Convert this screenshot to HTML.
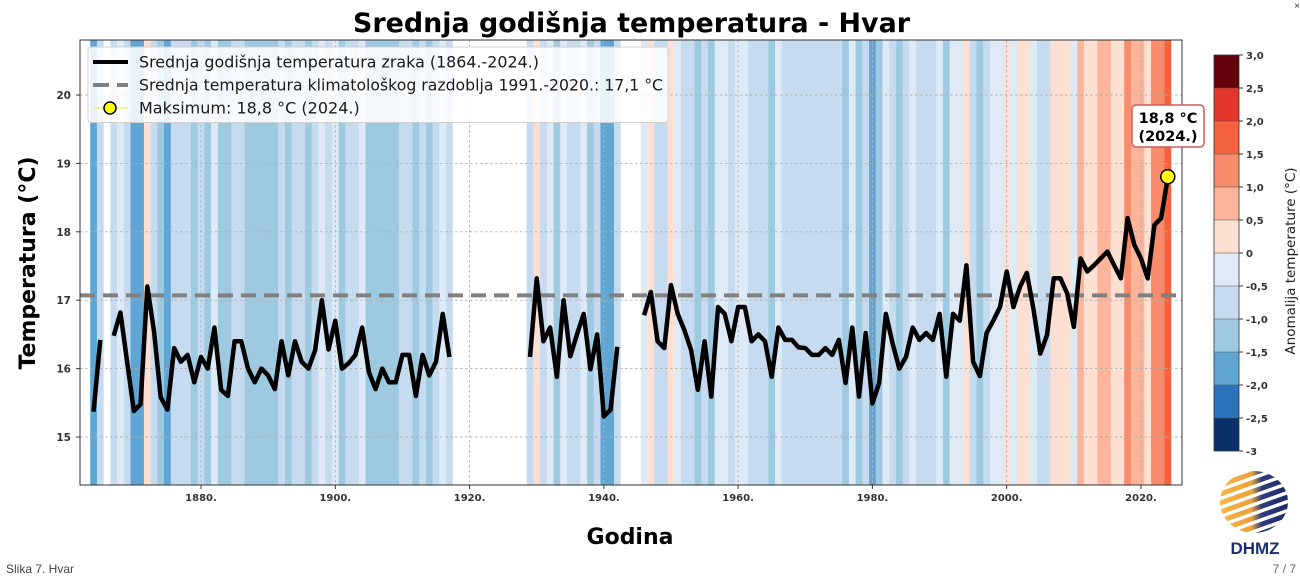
<!DOCTYPE html>
<html>
<head>
<meta charset="utf-8">
<style>
  html,body{margin:0;padding:0;background:#fff;}
  body{width:1300px;height:580px;overflow:hidden;}
  svg{display:block;}
  .t{font-family:"DejaVu Sans","Liberation Sans",sans-serif;}
  .b0{fill:#0a306b}.b1{fill:#2a72b9}.b2{fill:#5fa6d4}.b3{fill:#9ecae1}.b4{fill:#c6dbef}.b5{fill:#deebf7}
  .b6{fill:#fde0d2}.b7{fill:#fcb49a}.b8{fill:#f88b6c}.b9{fill:#f4623f}.b10{fill:#e3372b}.b11{fill:#67000d}
</style>
</head>
<body>
<svg width="1300" height="580" viewBox="0 0 1300 580" xmlns="http://www.w3.org/2000/svg">
  <defs>
    <clipPath id="plot"><rect x="80" y="40" width="1102" height="445"/></clipPath>
    <clipPath id="sph"><ellipse cx="1254" cy="502" rx="34" ry="31"/></clipPath>
    <linearGradient id="lg" gradientUnits="userSpaceOnUse" x1="1222" y1="0" x2="1288" y2="0">
      <stop offset="0" stop-color="#f6b445"/>
      <stop offset="0.45" stop-color="#eaa13a"/>
      <stop offset="0.6" stop-color="#2c3c7c"/>
      <stop offset="1" stop-color="#1a2a6c"/>
    </linearGradient>
  </defs>

  <!-- Title -->
  <text class="t" x="631.5" y="32" text-anchor="middle" font-size="27" font-weight="bold" fill="#000" textLength="557" lengthAdjust="spacingAndGlyphs">Srednja godišnja temperatura - Hvar</text>

  <g clip-path="url(#plot)">
    <rect x="80" y="40" width="1102" height="445" fill="#fff"/>
    <g transform="translate(201,95) scale(6.7143,-68.4) translate(-1880,-20)">
        <rect class="b2" x="1863.5" y="14.29" width="1.05" height="6.53"/>
        <rect class="b4" x="1864.5" y="14.29" width="1.0" height="6.53"/>
        <rect class="b4" x="1866.5" y="14.29" width="1.05" height="6.53"/>
        <rect class="b5" x="1867.5" y="14.29" width="1.05" height="6.53"/>
        <rect class="b4" x="1868.5" y="14.29" width="1.05" height="6.53"/>
        <rect class="b2" x="1869.5" y="14.29" width="2.05" height="6.53"/>
        <rect class="b6" x="1871.5" y="14.29" width="1.05" height="6.53"/>
        <rect class="b4" x="1872.5" y="14.29" width="1.05" height="6.53"/>
        <rect class="b3" x="1873.5" y="14.29" width="1.05" height="6.53"/>
        <rect class="b2" x="1874.5" y="14.29" width="1.05" height="6.53"/>
        <rect class="b4" x="1875.5" y="14.29" width="3.05" height="6.53"/>
        <rect class="b3" x="1878.5" y="14.29" width="1.05" height="6.53"/>
        <rect class="b4" x="1879.5" y="14.29" width="1.05" height="6.53"/>
        <rect class="b3" x="1880.5" y="14.29" width="1.05" height="6.53"/>
        <rect class="b5" x="1881.5" y="14.29" width="1.05" height="6.53"/>
        <rect class="b3" x="1882.5" y="14.29" width="2.05" height="6.53"/>
        <rect class="b4" x="1884.5" y="14.29" width="2.05" height="6.53"/>
        <rect class="b3" x="1886.5" y="14.29" width="5.05" height="6.53"/>
        <rect class="b4" x="1891.5" y="14.29" width="1.05" height="6.53"/>
        <rect class="b3" x="1892.5" y="14.29" width="1.05" height="6.53"/>
        <rect class="b4" x="1893.5" y="14.29" width="2.05" height="6.53"/>
        <rect class="b3" x="1895.5" y="14.29" width="1.05" height="6.53"/>
        <rect class="b4" x="1896.5" y="14.29" width="1.05" height="6.53"/>
        <rect class="b5" x="1897.5" y="14.29" width="1.05" height="6.53"/>
        <rect class="b4" x="1898.5" y="14.29" width="1.05" height="6.53"/>
        <rect class="b5" x="1899.5" y="14.29" width="1.05" height="6.53"/>
        <rect class="b3" x="1900.5" y="14.29" width="1.05" height="6.53"/>
        <rect class="b4" x="1901.5" y="14.29" width="2.05" height="6.53"/>
        <rect class="b5" x="1903.5" y="14.29" width="1.05" height="6.53"/>
        <rect class="b3" x="1904.5" y="14.29" width="5.05" height="6.53"/>
        <rect class="b4" x="1909.5" y="14.29" width="2.05" height="6.53"/>
        <rect class="b3" x="1911.5" y="14.29" width="1.05" height="6.53"/>
        <rect class="b4" x="1912.5" y="14.29" width="1.05" height="6.53"/>
        <rect class="b3" x="1913.5" y="14.29" width="1.05" height="6.53"/>
        <rect class="b4" x="1914.5" y="14.29" width="1.05" height="6.53"/>
        <rect class="b5" x="1915.5" y="14.29" width="1.05" height="6.53"/>
        <rect class="b4" x="1916.5" y="14.29" width="1.0" height="6.53"/>

        <rect class="b4" x="1928.5" y="14.29" width="1.05" height="6.53"/>
        <rect class="b6" x="1929.5" y="14.29" width="1.05" height="6.53"/>
        <rect class="b4" x="1930.5" y="14.29" width="1.05" height="6.53"/>
        <rect class="b5" x="1931.5" y="14.29" width="1.05" height="6.53"/>
        <rect class="b3" x="1932.5" y="14.29" width="1.05" height="6.53"/>
        <rect class="b5" x="1933.5" y="14.29" width="1.05" height="6.53"/>
        <rect class="b4" x="1934.5" y="14.29" width="2.05" height="6.53"/>
        <rect class="b5" x="1936.5" y="14.29" width="1.05" height="6.53"/>
        <rect class="b3" x="1937.5" y="14.29" width="1.05" height="6.53"/>
        <rect class="b4" x="1938.5" y="14.29" width="1.05" height="6.53"/>
        <rect class="b2" x="1939.5" y="14.29" width="2.05" height="6.53"/>
        <rect class="b4" x="1941.5" y="14.29" width="1.0" height="6.53"/>

        <rect class="b5" x="1945.5" y="14.29" width="1.05" height="6.53"/>
        <rect class="b6" x="1946.5" y="14.29" width="1.05" height="6.53"/>
        <rect class="b4" x="1947.5" y="14.29" width="2.05" height="6.53"/>
        <rect class="b6" x="1949.5" y="14.29" width="1.05" height="6.53"/>
        <rect class="b5" x="1950.5" y="14.29" width="1.05" height="6.53"/>
        <rect class="b4" x="1951.5" y="14.29" width="2.05" height="6.53"/>
        <rect class="b3" x="1953.5" y="14.29" width="1.05" height="6.53"/>
        <rect class="b4" x="1954.5" y="14.29" width="1.05" height="6.53"/>
        <rect class="b3" x="1955.5" y="14.29" width="1.05" height="6.53"/>
        <rect class="b5" x="1956.5" y="14.29" width="2.05" height="6.53"/>
        <rect class="b4" x="1958.5" y="14.29" width="1.05" height="6.53"/>
        <rect class="b5" x="1959.5" y="14.29" width="2.05" height="6.53"/>
        <rect class="b4" x="1961.5" y="14.29" width="3.05" height="6.53"/>
        <rect class="b3" x="1964.5" y="14.29" width="1.05" height="6.53"/>
        <rect class="b5" x="1965.5" y="14.29" width="1.05" height="6.53"/>
        <rect class="b4" x="1966.5" y="14.29" width="9.05" height="6.53"/>
        <rect class="b3" x="1975.5" y="14.29" width="1.05" height="6.53"/>
        <rect class="b5" x="1976.5" y="14.29" width="1.05" height="6.53"/>
        <rect class="b3" x="1977.5" y="14.29" width="1.05" height="6.53"/>
        <rect class="b4" x="1978.5" y="14.29" width="1.05" height="6.53"/>
        <rect class="b2" x="1979.5" y="14.29" width="1.05" height="6.53"/>
        <rect class="b3" x="1980.5" y="14.29" width="1.05" height="6.53"/>
        <rect class="b5" x="1981.5" y="14.29" width="1.05" height="6.53"/>
        <rect class="b4" x="1982.5" y="14.29" width="1.05" height="6.53"/>
        <rect class="b3" x="1983.5" y="14.29" width="1.05" height="6.53"/>
        <rect class="b4" x="1984.5" y="14.29" width="1.05" height="6.53"/>
        <rect class="b5" x="1985.5" y="14.29" width="1.05" height="6.53"/>
        <rect class="b4" x="1986.5" y="14.29" width="3.05" height="6.53"/>
        <rect class="b5" x="1989.5" y="14.29" width="1.05" height="6.53"/>
        <rect class="b3" x="1990.5" y="14.29" width="1.05" height="6.53"/>
        <rect class="b5" x="1991.5" y="14.29" width="2.05" height="6.53"/>
        <rect class="b6" x="1993.5" y="14.29" width="1.05" height="6.53"/>
        <rect class="b4" x="1994.5" y="14.29" width="1.05" height="6.53"/>
        <rect class="b3" x="1995.5" y="14.29" width="1.05" height="6.53"/>
        <rect class="b4" x="1996.5" y="14.29" width="1.05" height="6.53"/>
        <rect class="b5" x="1997.5" y="14.29" width="2.05" height="6.53"/>
        <rect class="b6" x="1999.5" y="14.29" width="1.05" height="6.53"/>
        <rect class="b5" x="2000.5" y="14.29" width="1.05" height="6.53"/>
        <rect class="b6" x="2001.5" y="14.29" width="2.05" height="6.53"/>
        <rect class="b5" x="2003.5" y="14.29" width="1.05" height="6.53"/>
        <rect class="b4" x="2004.5" y="14.29" width="2.05" height="6.53"/>
        <rect class="b6" x="2006.5" y="14.29" width="3.05" height="6.53"/>
        <rect class="b5" x="2009.5" y="14.29" width="1.05" height="6.53"/>
        <rect class="b7" x="2010.5" y="14.29" width="1.05" height="6.53"/>
        <rect class="b6" x="2011.5" y="14.29" width="2.05" height="6.53"/>
        <rect class="b7" x="2013.5" y="14.29" width="2.05" height="6.53"/>
        <rect class="b6" x="2015.5" y="14.29" width="2.05" height="6.53"/>
        <rect class="b8" x="2017.5" y="14.29" width="1.05" height="6.53"/>
        <rect class="b7" x="2018.5" y="14.29" width="2.05" height="6.53"/>
        <rect class="b6" x="2020.5" y="14.29" width="1.05" height="6.53"/>
        <rect class="b8" x="2021.5" y="14.29" width="2.05" height="6.53"/>
        <rect class="b9" x="2023.5" y="14.29" width="1.0" height="6.53"/>
    </g>

    <!-- grid -->
    <g stroke="#b0b0b0" stroke-width="0.9" stroke-dasharray="2.5,2.5" fill="none">
      <line x1="80" y1="95" x2="1182" y2="95"/>
      <line x1="80" y1="163.4" x2="1182" y2="163.4"/>
      <line x1="80" y1="231.8" x2="1182" y2="231.8"/>
      <line x1="80" y1="300.2" x2="1182" y2="300.2"/>
      <line x1="80" y1="368.6" x2="1182" y2="368.6"/>
      <line x1="80" y1="437" x2="1182" y2="437"/>
      <line x1="201" y1="40" x2="201" y2="485"/>
      <line x1="335.3" y1="40" x2="335.3" y2="485"/>
      <line x1="469.6" y1="40" x2="469.6" y2="485"/>
      <line x1="603.9" y1="40" x2="603.9" y2="485"/>
      <line x1="738.1" y1="40" x2="738.1" y2="485"/>
      <line x1="872.4" y1="40" x2="872.4" y2="485"/>
      <line x1="1006.7" y1="40" x2="1006.7" y2="485"/>
      <line x1="1141" y1="40" x2="1141" y2="485"/>
    </g>

    <!-- mean line -->
    <line x1="80" y1="295.4" x2="1182" y2="295.4" stroke="#808080" stroke-width="4" stroke-dasharray="15,8"/>

    <!-- data line -->
    <g transform="translate(201,95) scale(6.7143,-68.4) translate(-1880,-20)" fill="none" stroke="#000" stroke-width="4.5" stroke-linejoin="round" stroke-linecap="butt">
      <polyline vector-effect="non-scaling-stroke" points="1864,15.37 1865,16.42"/>
      <polyline vector-effect="non-scaling-stroke" points="1867,16.48 1868,16.82 1869,16.1 1870,15.38 1871,15.48 1872,17.2 1873,16.55 1874,15.58 1875,15.4 1876,16.3 1877,16.1 1878,16.2 1879,15.8 1880,16.17 1881,16.0 1882,16.6 1883,15.69 1884,15.6 1885,16.4 1886,16.4 1887,16.0 1888,15.8 1889,16.0 1890,15.9 1891,15.7 1892,16.4 1893,15.9 1894,16.4 1895,16.1 1896,16.0 1897,16.27 1898,17.0 1899,16.28 1900,16.7 1901,16.0 1902,16.08 1903,16.2 1904,16.6 1905,15.95 1906,15.7 1907,16.0 1908,15.8 1909,15.8 1910,16.2 1911,16.2 1912,15.6 1913,16.2 1914,15.9 1915,16.1 1916,16.8 1917,16.17"/>
      <polyline vector-effect="non-scaling-stroke" points="1929,16.17 1930,17.32 1931,16.4 1932,16.6 1933,15.88 1934,17.0 1935,16.18 1936,16.5 1937,16.8 1938,15.99 1939,16.5 1940,15.3 1941,15.4 1942,16.32"/>
      <polyline vector-effect="non-scaling-stroke" points="1946,16.78 1947,17.12 1948,16.4 1949,16.3 1950,17.22 1951,16.8 1952,16.56 1953,16.27 1954,15.69 1955,16.4 1956,15.59 1957,16.9 1958,16.8 1959,16.4 1960,16.9 1961,16.9 1962,16.4 1963,16.5 1964,16.4 1965,15.88 1966,16.6 1967,16.42 1968,16.42 1969,16.31 1970,16.3 1971,16.2 1972,16.2 1973,16.3 1974,16.2 1975,16.42 1976,15.79 1977,16.6 1978,15.59 1979,16.52 1980,15.49 1981,15.79 1982,16.8 1983,16.37 1984,16.0 1985,16.17 1986,16.6 1987,16.42 1988,16.52 1989,16.42 1990,16.8 1991,15.88 1992,16.8 1993,16.7 1994,17.51 1995,16.1 1996,15.89 1997,16.52 1998,16.7 1999,16.9 2000,17.42 2001,16.9 2002,17.2 2003,17.4 2004,16.86 2005,16.22 2006,16.49 2007,17.32 2008,17.32 2009,17.1 2010,16.61 2011,17.61 2012,17.42 2013,17.51 2014,17.61 2015,17.71 2016,17.51 2017,17.32 2018,18.2 2019,17.81 2020,17.61 2021,17.32 2022,18.1 2023,18.2 2024,18.8"/>
    </g>

    <circle cx="1167.8" cy="176.7" r="7" fill="#ffff00" stroke="#000" stroke-width="1.5"/>
  </g>

  <!-- plot frame -->
  <rect x="80" y="40" width="1102" height="445" fill="none" stroke="#333" stroke-width="1"/>

  <!-- ticks -->
  <g stroke="#333" stroke-width="1">
    <line x1="76" y1="95" x2="80" y2="95"/>
    <line x1="76" y1="163.4" x2="80" y2="163.4"/>
    <line x1="76" y1="231.8" x2="80" y2="231.8"/>
    <line x1="76" y1="300.2" x2="80" y2="300.2"/>
    <line x1="76" y1="368.6" x2="80" y2="368.6"/>
    <line x1="76" y1="437" x2="80" y2="437"/>
    <line x1="201" y1="485" x2="201" y2="489"/>
    <line x1="335.3" y1="485" x2="335.3" y2="489"/>
    <line x1="469.6" y1="485" x2="469.6" y2="489"/>
    <line x1="603.9" y1="485" x2="603.9" y2="489"/>
    <line x1="738.1" y1="485" x2="738.1" y2="489"/>
    <line x1="872.4" y1="485" x2="872.4" y2="489"/>
    <line x1="1006.7" y1="485" x2="1006.7" y2="489"/>
    <line x1="1141" y1="485" x2="1141" y2="489"/>
  </g>
  <g class="t" font-size="10.5" font-weight="bold" fill="#333" text-anchor="end">
    <text x="71" y="99">20</text>
    <text x="71" y="167.4">19</text>
    <text x="71" y="235.8">18</text>
    <text x="71" y="304.2">17</text>
    <text x="71" y="372.6">16</text>
    <text x="71" y="441">15</text>
  </g>
  <g class="t" font-size="10" font-weight="bold" fill="#333" text-anchor="middle">
    <text x="201" y="501">1880.</text>
    <text x="335.3" y="501">1900.</text>
    <text x="469.6" y="501">1920.</text>
    <text x="603.9" y="501">1940.</text>
    <text x="738.1" y="501">1960.</text>
    <text x="872.4" y="501">1980.</text>
    <text x="1006.7" y="501">2000.</text>
    <text x="1141" y="501">2020.</text>
  </g>

  <!-- axis labels -->
  <text class="t" x="630" y="544" text-anchor="middle" font-size="22" font-weight="bold" fill="#000">Godina</text>
  <text class="t" transform="translate(35,263) rotate(-90)" text-anchor="middle" font-size="22" font-weight="bold" fill="#000">Temperatura (°C)</text>

  <!-- legend -->
  <rect x="88" y="47" width="580" height="75.5" rx="3" fill="#fff" fill-opacity="0.85" stroke="#d0d0d0" stroke-width="1"/>
  <line x1="93" y1="62" x2="128" y2="62" stroke="#000" stroke-width="4"/>
  <line x1="93" y1="85" x2="128" y2="85" stroke="#808080" stroke-width="4" stroke-dasharray="16,8"/>
  <line x1="93" y1="108" x2="128" y2="108" stroke="#f2f27a" stroke-width="1.5"/>
  <circle cx="110" cy="108" r="6" fill="#ffff00" stroke="#000" stroke-width="1.5"/>
  <g class="t" font-size="16" fill="#1a1a1a">
    <text x="139" y="67.5" textLength="400" lengthAdjust="spacingAndGlyphs">Srednja godišnja temperatura zraka (1864.-2024.)</text>
    <text x="139" y="90.5" textLength="524" lengthAdjust="spacingAndGlyphs">Srednja temperatura klimatološkog razdoblja 1991.-2020.: 17,1 °C</text>
    <text x="139" y="113.5">Maksimum: 18,8 °C (2024.)</text>
  </g>

  <!-- annotation -->
  <rect x="1132" y="105" width="72" height="42" rx="4" fill="#fff" stroke="#cd5c5c" stroke-width="1.5"/>
  <g class="t" font-size="14.5" font-weight="bold" fill="#000" text-anchor="middle">
    <text x="1168" y="123">18,8 °C</text>
    <text x="1168" y="141">(2024.)</text>
  </g>

  <!-- colorbar -->
  <g>
    <rect class="b11" x="1214" y="55" width="25" height="33"/>
    <rect class="b10" x="1214" y="88" width="25" height="33"/>
    <rect class="b9" x="1214" y="121" width="25" height="33"/>
    <rect class="b8" x="1214" y="154" width="25" height="33"/>
    <rect class="b7" x="1214" y="187" width="25" height="33"/>
    <rect class="b6" x="1214" y="220" width="25" height="33"/>
    <rect class="b5" x="1214" y="253" width="25" height="33"/>
    <rect class="b4" x="1214" y="286" width="25" height="33"/>
    <rect class="b3" x="1214" y="319" width="25" height="33"/>
    <rect class="b2" x="1214" y="352" width="25" height="33"/>
    <rect class="b1" x="1214" y="385" width="25" height="33"/>
    <rect class="b0" x="1214" y="418" width="25" height="33"/>
  </g>
  <g stroke="#555" stroke-width="0.8" stroke-opacity="0.7">
    <line x1="1214" y1="88" x2="1239" y2="88"/>
    <line x1="1214" y1="121" x2="1239" y2="121"/>
    <line x1="1214" y1="154" x2="1239" y2="154"/>
    <line x1="1214" y1="187" x2="1239" y2="187"/>
    <line x1="1214" y1="220" x2="1239" y2="220"/>
    <line x1="1214" y1="253" x2="1239" y2="253"/>
    <line x1="1214" y1="286" x2="1239" y2="286"/>
    <line x1="1214" y1="319" x2="1239" y2="319"/>
    <line x1="1214" y1="352" x2="1239" y2="352"/>
    <line x1="1214" y1="385" x2="1239" y2="385"/>
    <line x1="1214" y1="418" x2="1239" y2="418"/>
  </g>
  <rect x="1214" y="55" width="25" height="396" fill="none" stroke="#333" stroke-width="0.8"/>
  <g stroke="#333" stroke-width="1">
    <line x1="1239" y1="55" x2="1243" y2="55"/>
    <line x1="1239" y1="88" x2="1243" y2="88"/>
    <line x1="1239" y1="121" x2="1243" y2="121"/>
    <line x1="1239" y1="154" x2="1243" y2="154"/>
    <line x1="1239" y1="187" x2="1243" y2="187"/>
    <line x1="1239" y1="220" x2="1243" y2="220"/>
    <line x1="1239" y1="253" x2="1243" y2="253"/>
    <line x1="1239" y1="286" x2="1243" y2="286"/>
    <line x1="1239" y1="319" x2="1243" y2="319"/>
    <line x1="1239" y1="352" x2="1243" y2="352"/>
    <line x1="1239" y1="385" x2="1243" y2="385"/>
    <line x1="1239" y1="418" x2="1243" y2="418"/>
    <line x1="1239" y1="451" x2="1243" y2="451"/>
  </g>
  <g class="t" font-size="10" font-weight="bold" fill="#333">
    <text x="1246" y="59">3,0</text>
    <text x="1246" y="92">2,5</text>
    <text x="1246" y="125">2,0</text>
    <text x="1246" y="158">1,5</text>
    <text x="1246" y="191">1,0</text>
    <text x="1246" y="224">0,5</text>
    <text x="1246" y="257">0</text>
    <text x="1246" y="290">-0,5</text>
    <text x="1246" y="323">-1,0</text>
    <text x="1246" y="356">-1,5</text>
    <text x="1246" y="389">-2,0</text>
    <text x="1246" y="422">-2,5</text>
    <text x="1246" y="455">-3</text>
  </g>
  <text class="t" transform="translate(1295,261) rotate(-90)" text-anchor="middle" font-size="13.5" fill="#222">Anomalija temperature (°C)</text>

  <!-- DHMZ logo -->
  <g clip-path="url(#sph)" stroke="url(#lg)" stroke-width="5" stroke-linecap="round">
    <line x1="1212" y1="470" x2="1296" y2="440"/>
    <line x1="1212" y1="479" x2="1296" y2="449"/>
    <line x1="1212" y1="488" x2="1296" y2="458"/>
    <line x1="1212" y1="497" x2="1296" y2="467"/>
    <line x1="1212" y1="506" x2="1296" y2="476"/>
    <line x1="1212" y1="515" x2="1296" y2="485"/>
    <line x1="1212" y1="524" x2="1296" y2="494"/>
    <line x1="1212" y1="533" x2="1296" y2="503"/>
    <line x1="1212" y1="542" x2="1296" y2="512"/>
    <line x1="1212" y1="551" x2="1296" y2="521"/>
    <line x1="1212" y1="560" x2="1296" y2="530"/>
    <line x1="1212" y1="569" x2="1296" y2="539"/>
  </g>
  <text x="1255" y="554" text-anchor="middle" font-family="'Liberation Sans',sans-serif" font-size="17" font-weight="bold" fill="#1b2f6e">DHMZ</text>

  <!-- footer -->
  <text x="6" y="573" font-family="'Liberation Sans',sans-serif" font-size="12" fill="#444">Slika 7. Hvar</text>
  <text x="1296" y="573" text-anchor="end" font-family="'Liberation Sans',sans-serif" font-size="12" fill="#666">7 / 7</text>
  <text x="1297" y="9" text-anchor="middle" font-family="'Liberation Sans',sans-serif" font-size="10" fill="#333">×</text>
</svg>
</body>
</html>
